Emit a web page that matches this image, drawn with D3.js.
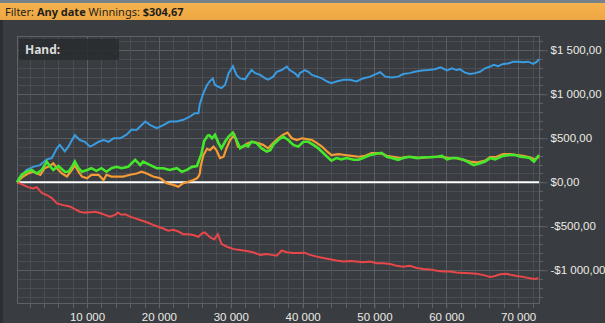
<!DOCTYPE html>
<html>
<head>
<meta charset="utf-8">
<script src="https://cdn.jsdelivr.net/npm/d3@7"></script>
<style>
  html, body { margin: 0; padding: 0; background: #393c40; }
  svg { display: block; }
</style>
</head>
<body>
<div id="chart"></div>
<script>
// hands played, dollars won
var blueHands = [250,700,1600,2500,3450,4400,5100,5800,6200,6900,7400,7900,8300,9000,9700,10400,10900,11600,12300,13000,13700,14600,15500,16200,16900,17600,18100,18800,19700,20600,21500,22500,23400,24300,25000,25500,25700,26200,26700,27100,27500,27800,28300,28700,29200,29700,30300,30800,31300,32000,32400,32900,33400,34100,34800,35200,35900,36400,37100,37800,38200,38900,39400,39600,40300,40800,41300,42000,42700,43400,44000,44700,45700,46600,47500,48400,49400,50100,50800,51500,52400,53300,54000,54900,55600,56600,57500,58400,59200,60100,60800,61400,61900,62600,63300,64000,64700,65400,66100,66600,67200,67900,68600,69300,70000,70700,71400,72100,72600,72900];
var blueValues = [0,65,140,175,195,260,275,385,425,350,405,480,535,480,460,405,425,460,480,460,500,500,540,600,595,650,690,650,615,650,690,690,710,745,785,785,890,1015,1105,1150,1180,1105,1085,1070,1105,1240,1320,1220,1180,1170,1220,1275,1240,1220,1180,1165,1200,1255,1275,1315,1275,1240,1200,1240,1275,1255,1220,1200,1180,1145,1125,1145,1165,1165,1145,1180,1200,1225,1250,1200,1190,1200,1230,1240,1255,1270,1275,1285,1305,1270,1295,1275,1285,1245,1230,1240,1255,1295,1315,1335,1320,1345,1350,1370,1370,1365,1370,1345,1370,1400];

var greenHands = [250,900,1600,2300,3000,3700,4400,4800,5300,6000,6900,7400,7900,8300,8800,9300,10000,10600,11300,12000,12700,13400,14100,14800,15700,16700,17400,17800,18800,19700,20600,21500,22500,23200,23900,24600,25300,25900,26300,26800,27000,27400,27800,28300,28700,29200,29700,30300,30800,31300,32000,32400,32900,33600,34300,35000,35500,35900,36600,37300,38000,38700,39400,40100,40800,41500,42200,42900,43600,44000,44700,45400,46100,47100,47800,48400,49400,50300,51000,51700,52400,53300,54000,54900,55900,56800,57700,58700,59400,60100,60800,61400,62400,63100,63800,64700,65400,66100,66800,67200,67900,68900,69600,70300,71000,71600,72200,72600,72900];
var greenValues = [0,85,120,140,100,140,235,185,140,185,120,120,175,235,160,120,140,160,130,160,120,160,175,160,175,255,195,235,195,160,160,140,160,120,140,175,185,320,470,530,535,500,540,445,385,460,520,565,480,385,425,405,460,445,385,350,365,425,480,520,480,425,405,460,460,425,385,330,275,245,275,260,275,255,255,275,310,325,335,290,275,255,275,290,275,285,285,290,300,260,275,275,255,225,195,215,235,275,260,275,300,310,310,290,285,275,235,275,310];

var orangeHands = [250,1100,1800,2500,3500,4100,4800,5300,5800,6500,7200,7900,8300,8800,9300,10000,10600,11600,12300,12700,13400,14100,15000,16000,16900,17600,18300,19200,20200,21100,22000,22700,23400,24100,24800,25300,25500,25700,25800,26200,26700,27100,27600,28000,28500,29000,29400,29900,30500,31000,31700,32400,33100,33800,34500,35200,35900,36600,37300,37900,38500,39200,39900,40600,41300,42000,42700,43400,44000,45000,45900,46800,47800,48700,49600,50500,51200,51700,52600,53600,54500,55400,56300,57500,58700,59600,60500,61400,62400,63300,64200,65400,66100,67000,67900,68900,69800,70700,71600,72300,72900];
var orangeValues = [0,65,100,120,85,160,185,215,160,100,65,140,195,120,65,45,85,85,25,85,65,65,65,85,100,120,100,65,45,-10,-30,-50,-10,5,25,45,65,100,175,310,380,365,405,365,275,290,385,480,540,405,400,445,460,445,425,385,445,500,540,565,500,480,500,490,480,445,405,350,310,320,310,300,290,300,330,330,320,300,290,275,290,285,275,285,290,285,275,275,255,235,225,245,285,290,320,320,310,300,285,260,290];

var redHands = [250,1100,1800,2500,3000,3700,4400,5100,5800,6700,7600,8300,9000,9700,10400,11100,11800,12500,13200,13900,14300,14800,15300,16000,16700,17600,18500,19200,19900,20600,21300,22000,22700,23400,24100,24800,25500,26000,26400,27100,27700,28200,28700,29400,30400,31300,32200,33100,34100,35000,35700,36400,37100,37800,38700,39600,40300,41000,42000,42900,43800,44700,45700,46600,47500,48400,49400,50300,51200,52200,53100,54000,54900,55900,56800,57700,58700,59600,60500,61400,62400,63300,64200,65200,66100,66800,67500,68400,69100,69800,70700,71600,72300,72800];
var redValues = [0,-30,-55,-70,-55,-120,-145,-180,-240,-260,-275,-305,-335,-345,-340,-335,-350,-370,-390,-370,-345,-370,-365,-390,-410,-435,-460,-485,-505,-525,-550,-540,-560,-590,-590,-600,-620,-580,-570,-625,-650,-590,-700,-730,-760,-770,-780,-795,-825,-815,-825,-835,-775,-795,-805,-805,-800,-825,-845,-860,-875,-890,-900,-895,-900,-910,-900,-920,-920,-930,-950,-960,-950,-975,-985,-990,-1005,-1015,-1015,-1025,-1030,-1035,-1040,-1055,-1075,-1065,-1045,-1040,-1055,-1065,-1075,-1090,-1100,-1090];

var yTicks = [-1000, -500, 0, 500, 1000, 1500];
var xTicks = [10000, 20000, 30000, 40000, 50000, 60000, 70000];

var width = 605, height = 323;
var plotLeft = 17, plotRight = 539, plotTop = 36, plotBottom = 303;

var svg = d3.select("#chart")
            .append("svg")
            .attr("width", width)
            .attr("height", height)
            .style("font-family", "'Noto Sans', 'Open Sans', sans-serif");

svg.append("rect").attr("width", width).attr("height", height).attr("fill", "#393c40");
svg.append("rect").attr("x", 0).attr("y", 20).attr("width", 3).attr("height", height - 20).attr("fill", "#2c2e31");

// filter bar
var grad = svg.append("defs").append("linearGradient")
    .attr("id", "bar").attr("x1", 0).attr("y1", 0).attr("x2", 0).attr("y2", 1);
grad.append("stop").attr("offset", "0%").attr("stop-color", "#f6b24c");
grad.append("stop").attr("offset", "100%").attr("stop-color", "#eca743");
svg.append("rect").attr("x", 0).attr("y", 0).attr("width", width).attr("height", 3).attr("fill", "#77818a");
svg.append("rect").attr("x", 0).attr("y", 3).attr("width", width).attr("height", 17).attr("fill", "url(#bar)");

var title = svg.append("text").attr("x", 5).attr("y", 16)
    .attr("font-size", "11px").attr("fill", "#1e1e1e");
title.append("tspan").text("Filter: ");
title.append("tspan").attr("font-weight", "bold").text("Any date");
title.append("tspan").text(" Winnings: ");
title.append("tspan").attr("font-weight", "bold").text("$304,67");

var x = d3.scaleLinear().domain([250, 72900]).range([plotLeft, plotRight]);
var y = d3.scaleLinear().domain([-1372, 1662]).range([plotBottom, plotTop]);

// grid
var hLines = d3.range(-1300, 1700, 100);
svg.append("g").selectAll("line")
    .data(hLines)
    .enter()
    .append("line")
    .attr("x1", plotLeft).attr("x2", plotRight)
    .attr("y1", function(d) { return Math.round(y(d)) + 0.5; })
    .attr("y2", function(d) { return Math.round(y(d)) + 0.5; })
    .attr("stroke", function(d) { return d % 500 === 0 ? "#5a5e62" : "#4a4e52"; })
    .attr("stroke-width", 1);

var vLines = d3.range(2000, 72001, 2000);
svg.append("g").selectAll("line")
    .data(vLines)
    .enter()
    .append("line")
    .attr("y1", plotTop).attr("y2", plotBottom)
    .attr("x1", function(d) { return Math.round(x(d)) + 0.5; })
    .attr("x2", function(d) { return Math.round(x(d)) + 0.5; })
    .attr("stroke", function(d) { return d % 10000 === 0 ? "#5a5e62" : "#4a4e52"; })
    .attr("stroke-width", 1);

// border
svg.append("rect")
    .attr("x", plotLeft + 0.5).attr("y", plotTop + 0.5)
    .attr("width", plotRight - plotLeft).attr("height", plotBottom - plotTop)
    .attr("fill", "none").attr("stroke", "#5e6266");

// right axis
var yAxis = d3.axisRight(y)
    .tickValues(yTicks)
    .tickSize(8)
    .tickPadding(3)
    .tickFormat(function(d) {
        var s = d3.format(",.2f")(Math.abs(d)).replace(/,/g, " ").replace(".", ",");
        return (d < 0 ? "-$" : "$") + s;
    });
var ya = svg.append("g").attr("transform", "translate(" + (plotRight + 0.5) + ",0)").call(yAxis);
ya.select(".domain").remove();
ya.selectAll("line").attr("stroke", "#5e6266");
ya.selectAll("text").attr("fill", "#ecebe4").attr("font-size", "11.5px");

svg.append("g").selectAll("line")
    .data(hLines)
    .enter()
    .append("line")
    .attr("x1", plotRight).attr("x2", plotRight + 4)
    .attr("y1", function(d) { return Math.round(y(d)) + 0.5; })
    .attr("y2", function(d) { return Math.round(y(d)) + 0.5; })
    .attr("stroke", "#5e6266");

// bottom axis
var xAxis = d3.axisBottom(x)
    .tickValues(xTicks)
    .tickSize(5)
    .tickPadding(4)
    .tickFormat(function(d) { return d3.format(",")(d).replace(/,/g, " "); });
var xa = svg.append("g").attr("transform", "translate(0," + (plotBottom + 0.5) + ")").call(xAxis);
xa.select(".domain").remove();
xa.selectAll("line").attr("stroke", "#5e6266");
xa.selectAll("text").attr("fill", "#ecebe4").attr("font-size", "11.5px");

svg.append("g").selectAll("line")
    .data(vLines)
    .enter()
    .append("line")
    .attr("y1", plotBottom).attr("y2", plotBottom + 5)
    .attr("x1", function(d) { return Math.round(x(d)) + 0.5; })
    .attr("x2", function(d) { return Math.round(x(d)) + 0.5; })
    .attr("stroke", "#5e6266");

// zero line
svg.append("line")
    .attr("x1", plotLeft).attr("x2", plotRight)
    .attr("y1", y(0)).attr("y2", y(0))
    .attr("stroke", "#ffffff").attr("stroke-width", 2);

// the four lines
var series = [
    { hands: redHands, values: redValues, color: "#e8474a", w: 2 },
    { hands: blueHands, values: blueValues, color: "#3a9be0", w: 2 },
    { hands: orangeHands, values: orangeValues, color: "#f59a34", w: 2.2 },
    { hands: greenHands, values: greenValues, color: "#45e62c", w: 2.6 }
];

var line = d3.line()
    .x(function(d) { return x(d[0]); })
    .y(function(d) { return y(d[1]); });

svg.append("g").selectAll("path")
    .data(series)
    .enter()
    .append("path")
    .attr("d", function(s) {
        return line(s.hands.map(function(h, i) { return [h, s.values[i]]; }));
    })
    .attr("fill", "none")
    .attr("stroke", function(s) { return s.color; })
    .attr("stroke-width", function(s) { return s.w; })
    .attr("stroke-linejoin", "miter");

// hand box
svg.append("rect")
    .attr("x", 19).attr("y", 39).attr("width", 100).attr("height", 21)
    .attr("fill", "#2a2c2f").attr("fill-opacity", 0.9);
svg.append("text")
    .attr("x", 25).attr("y", 54)
    .attr("font-size", "12px").attr("font-weight", "bold")
    .attr("fill", "#dcdcdc")
    .text("Hand:");
</script>
</body>
</html>
